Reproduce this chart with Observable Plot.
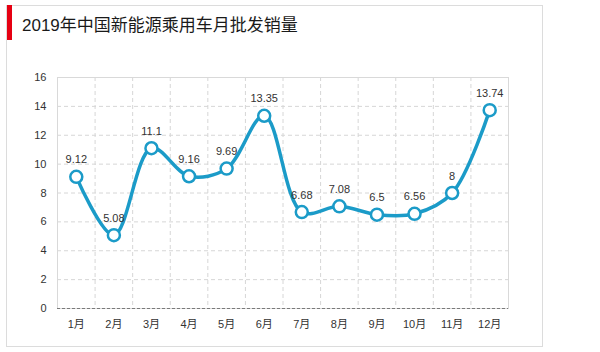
<!DOCTYPE html>
<html>
<head>
<meta charset="utf-8">
<script src="https://cdn.jsdelivr.net/npm/d3@7"></script>
<script src="https://cdn.jsdelivr.net/npm/@observablehq/plot@0.6"></script>
<style>
  html, body { margin: 0; padding: 0; background: #fff; }
  #wrap { position: relative; width: 600px; height: 352px; overflow: hidden; font-family: "Liberation Sans", "Noto Sans CJK SC", sans-serif; }
  #frame { position: absolute; left: 6px; top: 5px; width: 537px; height: 342px; border: 1px solid #dcdcdc; box-sizing: border-box; }
  #bar { position: absolute; left: 7px; top: 5px; width: 5px; height: 35px; background: #e60012; }
  #title { position: absolute; left: 22px; top: 15px; font-size: 17px; line-height: 22px; color: #1a1a1a; font-family: "Liberation Sans", "Noto Sans CJK SC", sans-serif; white-space: nowrap; }
  #chart { position: absolute; left: 0; top: 0; }
</style>
</head>
<body>
<div id="wrap">
  <div id="frame"></div>
  <div id="bar"></div>
  <div id="title">2019年中国新能源乘用车月批发销量</div>
  <div id="chart"></div>
</div>
<script>
const months = ["1月","2月","3月","4月","5月","6月","7月","8月","9月","10月","11月","12月"];
const sales = [9.12, 5.08, 11.1, 9.16, 9.69, 13.35, 6.68, 7.08, 6.5, 6.56, 8, 13.74];
const yTicks = [0, 2, 4, 6, 8, 10, 12, 14, 16];

const data = months.map((m, i) => ({idx: i + 1, month: m, value: sales[i]}));
const boundaries = months.slice(1).map((_, i) => i + 1.5);
const lineColor = "#1b9bc8";

const chart = Plot.plot({
  width: 600,
  height: 352,
  marginLeft: 57,
  marginRight: 92,
  marginTop: 77,
  marginBottom: 44,
  x: {type: "linear", domain: [0.5, months.length + 0.5], axis: null},
  y: {domain: [0, 16], axis: null},
  style: {fontFamily: "'Liberation Sans', 'Noto Sans CJK SC', sans-serif", fontSize: "11px", background: "transparent", color: "#333"},
  marks: [
    Plot.ruleY(yTicks.filter(t => t > 0 && t < 16), {stroke: "#d6d6d6", strokeDasharray: "4,3"}),
    Plot.ruleX(boundaries, {stroke: "#d6d6d6", strokeDasharray: "4,3"}),
    Plot.frame({stroke: "#d9d9d9"}),
    Plot.ruleY([0], {stroke: "#7a7a7a", strokeDasharray: "3,2"}),
    Plot.axisY({ticks: yTicks, tickSize: 0, tickPadding: 11, label: null, fill: "#333"}),
    Plot.axisX({ticks: data.map(d => d.idx), tickFormat: d => months[d - 1], tickSize: 0, tickPadding: 12, label: null, fill: "#333"}),
    Plot.line(data, {x: "idx", y: "value", curve: "catmull-rom", stroke: lineColor, strokeWidth: 3.5}),
    Plot.dot(data, {x: "idx", y: "value", r: 6, fill: "white", stroke: lineColor, strokeWidth: 2.5}),
    Plot.text(data, {x: "idx", y: "value", text: d => String(d.value), dy: -17, fill: "#333", fontSize: 11})
  ]
});
document.getElementById("chart").appendChild(chart);
</script>
</body>
</html>
